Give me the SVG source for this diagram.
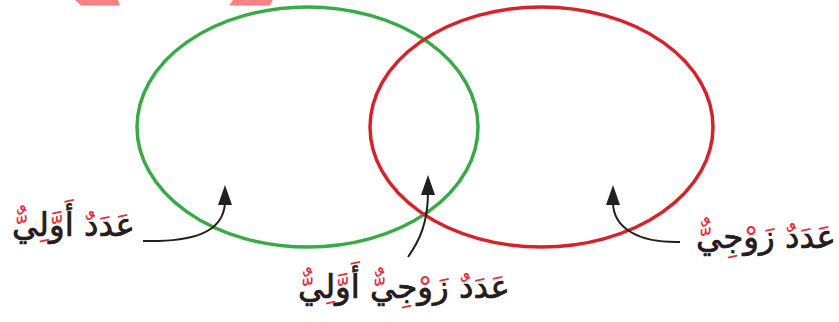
<svg xmlns="http://www.w3.org/2000/svg" width="839" height="322" viewBox="0 0 839 322">
<defs>
<style>
.ring{fill:none;stroke-width:3.5}
.green{stroke:#3aaa47}
.red{stroke:#d3232b}
.conn{fill:none;stroke:#231f20;stroke-width:2}
.head{fill:#231f20}
.lbl{font-family:"DejaVu Sans","Noto Sans",sans-serif;font-size:32.5px;text-anchor:middle}
.marks{fill:#e0303a}
.base{fill:#231f20;stroke:#231f20;stroke-width:0.6}
.deco{fill:#fb8080}
</style>
</defs>
<rect width="839" height="322" fill="#ffffff"/>
<polygon class="deco" points="75,0 118,0 120,5.5 81,5.5"/>
<polygon class="deco" points="233,0 273,0 270,5.5 229,5.5"/>
<g id="set-prime">
<ellipse class="ring green" cx="307.5" cy="127" rx="170.5" ry="120"/>
</g>
<g id="set-even">
<ellipse class="ring red" cx="541.5" cy="127" rx="171.5" ry="120"/>
</g>
<g id="connectors">
<path class="conn" d="M143,241 C190,242 224,234 225,202"/>
<polygon class="head" points="225,185 232,205 218,205"/>
<path class="conn" d="M408,257 C420,240 428,222 428,192"/>
<polygon class="head" points="428,175 435,195 421,195"/>
<path class="conn" d="M680,242 C640,243 613,229 613,202"/>
<polygon class="head" points="613,185 620,205 606,205"/>
</g>
<g id="label-prime">
<text class="lbl marks" x="73.5" y="236" direction="rtl">عَدَدٌ أَوَّلِيٌّ</text>
<text class="lbl base" x="73.5" y="236" direction="rtl">عدد أولي</text>
</g>
<g id="label-even-prime">
<text class="lbl marks" x="404" y="298" direction="rtl">عَدَدٌ زَوْجِيٌّ أَوَّلِيٌّ</text>
<text class="lbl base" x="404" y="298" direction="rtl">عدد زوجي أولي</text>
</g>
<g id="label-even">
<text class="lbl marks" x="766" y="248" direction="rtl">عَدَدٌ زَوْجِيٌّ</text>
<text class="lbl base" x="766" y="248" direction="rtl">عدد زوجي</text>
</g>
</svg>
